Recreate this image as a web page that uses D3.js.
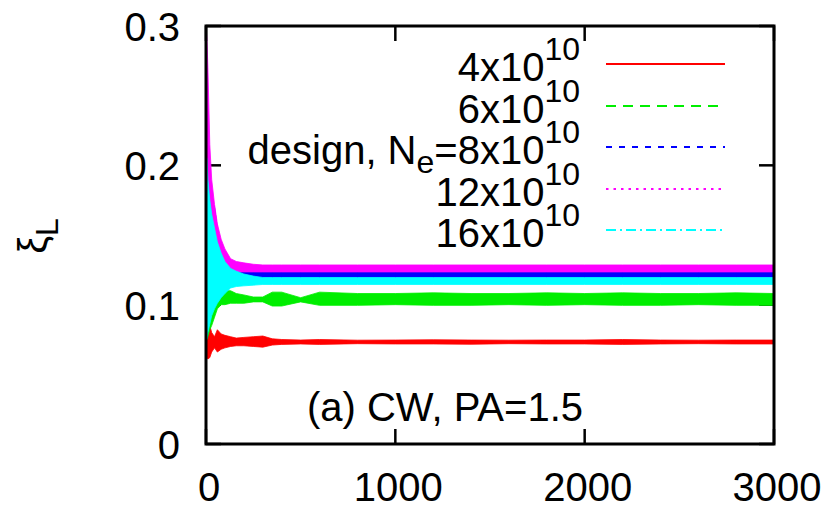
<!DOCTYPE html>
<html><head><meta charset="utf-8">
<script src="https://cdn.jsdelivr.net/npm/d3@7"></script>
<style>html,body{margin:0;padding:0;background:#fff;}svg{display:block;font-family:"Liberation Sans",Arial,sans-serif;}</style>
</head><body>
<svg id="chart" width="827" height="508"></svg>
<script>
// ---- data ----
const xTicks = [0, 1000, 2000, 3000];
const yTicks = [0, 0.1, 0.2, 0.3];
const yTickLabels = ["0", "0.1", "0.2", "0.3"];
const seriesNames = ["4x10", "6x10", "8x10", "12x10", "16x10"];
const seriesColors = ["#ff0000", "#00ee00", "#0000ff", "#ff00ff", "#00ffff"];
const seriesDash = ["", "10,7", "6,7", "2.5,5", "10,4,2,4"];

// envelope (min / max of the oscillating signal) at sample times
const T = [0,5,10,20,30,45,60,80,100,130,160,200,250,300,350,400,500,600,800,1000,1200,1400,1600,1800,2000,2200,2400,2600,2800,3000];
const redLo = [.066,.062,.061,.062,.066,.069,.066,.068,.069,.070,.0705,.0705,.070,.0695,.071,.0715,.0718,.0715,.072,.0718,.0718,.0716,.072,.0718,.0718,.0715,.0718,.072,.0718,.0718];
const redHi = [.080,.084,.086,.085,.080,.077,.082,.079,.078,.077,.076,.0765,.077,.0775,.0755,.075,.0746,.075,.0745,.0746,.0748,.0746,.0745,.0746,.0746,.075,.0746,.0745,.0746,.0746];
const greenLo = [.075,.075,.077,.082,.085,.091,.097,.100,.100,.101,.101,.101,.102,.102,.099,.099,.102,.0995,.0995,.100,.0995,.0995,.100,.0995,.100,.0995,.0995,.100,.0995,.0995];
const greenHi = [.088,.086,.088,.094,.097,.103,.107,.109,.110,.110,.108,.107,.1055,.1055,.109,.109,.105,.109,.108,.108,.1085,.108,.108,.1085,.108,.1085,.108,.108,.1085,.108];
const blueLo = [.090,.095,.100,.110,.115,.120,.118,.117,.116,.116,.117,.118,.119,.119,.119,.119,.119,.119,.119,.119,.119,.119,.119,.119,.119,.119,.119,.119,.119,.119];
const blueHi = [.300,.250,.210,.190,.175,.170,.155,.140,.133,.127,.125,.124,.1235,.1235,.1235,.1235,.1235,.1235,.1235,.1235,.1235,.1235,.1235,.1235,.1235,.1235,.1235,.1235,.1235,.1235];
const magentaLo = [.160,.160,.160,.150,.145,.140,.135,.130,.126,.1235,.1235,.1235,.1235,.1235,.1235,.1235,.1235,.1235,.1235,.1235,.1235,.1235,.1235,.1235,.1235,.1235,.1235,.1235,.1235,.1235];
const magentaHi = [.300,.290,.270,.215,.190,.172,.158,.147,.140,.133,.131,.130,.129,.1285,.1285,.1285,.1285,.1285,.1285,.1285,.1285,.1285,.1285,.1285,.1285,.1285,.1285,.1285,.1285,.1285];
const cyanLo = [.075,.075,.080,.086,.092,.097,.101,.105,.108,.112,.113,.1135,.114,.1145,.1145,.1145,.1145,.1145,.1145,.1145,.1145,.1145,.1145,.1145,.1145,.1145,.1145,.1145,.1145,.1145];
const cyanHi = [.200,.205,.190,.175,.165,.155,.145,.137,.131,.126,.124,.122,.1205,.1195,.1195,.1195,.1195,.1195,.1195,.1195,.1195,.1195,.1195,.1195,.1195,.1195,.1195,.1195,.1195,.1195];

const lows = [redLo, greenLo, blueLo, magentaLo, cyanLo];
const highs = [redHi, greenHi, blueHi, magentaHi, cyanHi];

// ---- layout ----
const L = 206, R = 774, Tp = 26, B = 444;
const svg = d3.select("#chart");
const x = d3.scaleLinear().domain([0, 3000]).range([L, R]);
const y = d3.scaleLinear().domain([0, 0.3]).range([B, Tp]);
const FS = 40, TICK = 15;

// ticks (behind data), mirrored
const tk = svg.append("g").attr("stroke", "#000").attr("stroke-width", 2.5);
xTicks.forEach(v => {
  tk.append("line").attr("x1", x(v)).attr("x2", x(v)).attr("y1", B).attr("y2", B - TICK);
  tk.append("line").attr("x1", x(v)).attr("x2", x(v)).attr("y1", Tp).attr("y2", Tp + TICK);
});
yTicks.forEach(v => {
  tk.append("line").attr("x1", L).attr("x2", L + TICK).attr("y1", y(v)).attr("y2", y(v));
  tk.append("line").attr("x1", R).attr("x2", R - TICK).attr("y1", y(v)).attr("y2", y(v));
});

// data bands
svg.append("defs").append("clipPath").attr("id", "clip")
  .append("rect").attr("x", L).attr("y", Tp).attr("width", R - L).attr("height", B - Tp);
const gData = svg.append("g").attr("clip-path", "url(#clip)");
seriesNames.forEach((n, i) => {
  const pts = T.map((t, k) => ({t, lo: lows[i][k], hi: highs[i][k]}));
  const area = d3.area().x(d => x(d.t)).y0(d => y(d.lo)).y1(d => y(d.hi));
  gData.append("path").datum(pts).attr("d", area)
    .attr("fill", seriesColors[i]).attr("stroke", seriesColors[i]).attr("stroke-width", 0.8);
});

// border
svg.append("rect").attr("x", L).attr("y", Tp).attr("width", R - L).attr("height", B - Tp)
  .attr("fill", "none").attr("stroke", "#000").attr("stroke-width", 3);

// tick labels
xTicks.forEach(v => {
  svg.append("text").attr("x", x(v) + 3).attr("y", 501).attr("text-anchor", "middle")
    .attr("font-size", FS).text(v);
});
yTicks.forEach((v, i) => {
  svg.append("text").attr("x", 180).attr("y", y(v) + 15).attr("text-anchor", "end")
    .attr("font-size", FS).text(yTickLabels[i]);
});

// y label
const yl = svg.append("text").attr("transform", "translate(47,236) rotate(-90)")
  .attr("text-anchor", "middle").attr("font-size", FS);
yl.append("tspan").text("ξ");
yl.append("tspan").attr("font-size", 32).attr("dy", 11).text("L");

// annotation
svg.append("text").attr("x", 445).attr("y", 421).attr("text-anchor", "middle")
  .attr("font-size", FS).text("(a) CW, PA=1.5");

// legend
const rowY = [64, 106, 147, 189, 230];
seriesNames.forEach((n, i) => {
  const t = svg.append("text").attr("x", 580).attr("y", rowY[i] + 17)
    .attr("text-anchor", "end").attr("font-size", FS);
  if (i === 2) {
    t.append("tspan").text("design, N");
    t.append("tspan").attr("font-size", 32).attr("dy", 9).text("e");
    t.append("tspan").attr("dy", -9).text("=" + n);
  } else {
    t.append("tspan").text(n);
  }
  t.append("tspan").attr("font-size", 32).attr("dy", -21).text("10");
  svg.append("line").attr("x1", 606).attr("x2", 725).attr("y1", rowY[i]).attr("y2", rowY[i])
    .attr("stroke", seriesColors[i]).attr("stroke-width", 2.2)
    .attr("stroke-dasharray", seriesDash[i] || null);
});
</script>
</body></html>
